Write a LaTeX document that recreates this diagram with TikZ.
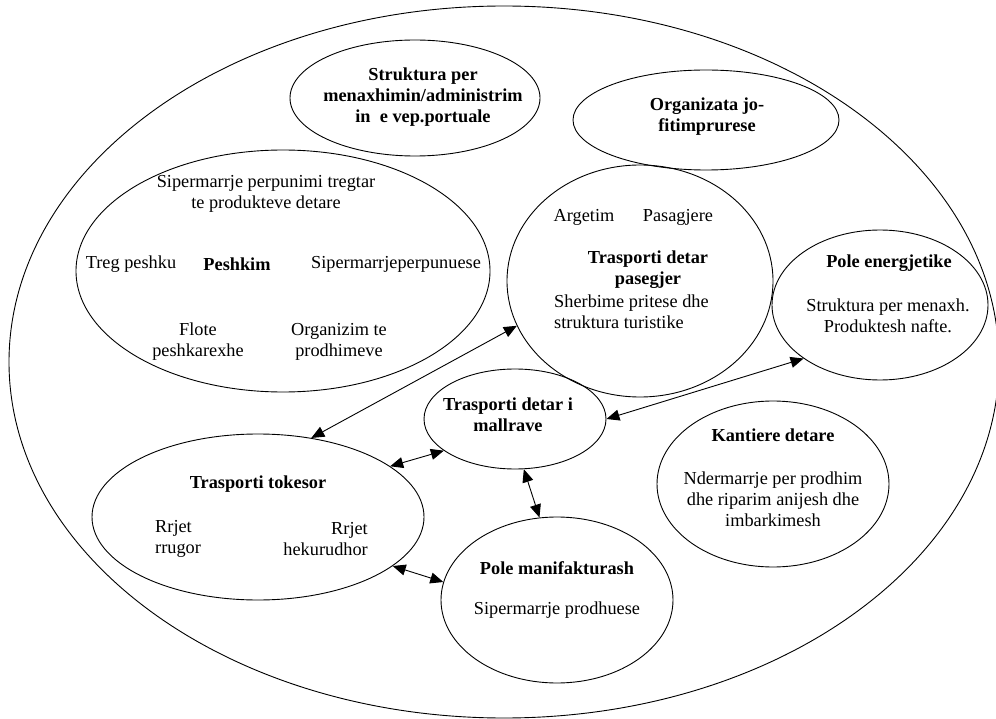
\documentclass[tikz,border=0pt]{standalone}
\usepackage{fontspec}
\setmainfont{Liberation Serif}
\usetikzlibrary{shapes.geometric,arrows.meta}
\tikzset{
  oval/.style={draw,ellipse,line width=0.9pt,inner sep=0pt},
  lbl/.style={inner sep=0pt,font=\fontsize{18.3}{21}\selectfont,align=center},
  blbl/.style={lbl,font=\fontsize{18.3}{21}\selectfont\bfseries},
  dbl/.style={line width=0.9pt,{Triangle[length=13pt,width=11pt]}-{Triangle[length=13pt,width=11pt]}}
}
\begin{document}
\begin{tikzpicture}[x=1pt,y=-1pt]
\useasboundingbox (0,0) rectangle (996,719);
% outer
\node[oval,minimum width=990pt,minimum height=712pt] (outer) at (504,362) {};
% ellipses
\node[oval,minimum width=250pt,minimum height=116pt] (admin) at (415,98) {};
\node[oval,minimum width=266pt,minimum height=100pt] (org) at (706,120) {};
\node[oval,minimum width=414pt,minimum height=242pt] (peshkim) at (283,271) {};
\node[oval,minimum width=266pt,minimum height=232pt] (pasegjer) at (640,281) {};
\node[oval,minimum width=216pt,minimum height=150pt] (energ) at (880,305) {};
\node[oval,minimum width=182pt,minimum height=100pt] (mallrave) at (515,419) {};
\node[oval,minimum width=332pt,minimum height=166pt] (tokesor) at (258,517) {};
\node[oval,minimum width=232pt,minimum height=166pt] (manif) at (557,600) {};
\node[oval,minimum width=232pt,minimum height=166pt] (kantiere) at (773,484) {};
% texts
\node[blbl] (tadmin) at (423,97) {Struktura per\\menaxhimin/administrim\\in\ \ e vep.portuale};
\node[blbl] (torg) at (707,117) {Organizata jo-\\fitimprurese};
\node[lbl] (tsip) at (266,194) {Sipermarrje perpunimi tregtar\\te produkteve detare};
\node[lbl] (ttreg) at (131,264) {Treg peshku};
\node[blbl] (tpesh) at (237,264) {Peshkim};
\node[lbl] (tsipp) at (396,264) {Sipermarrjeperpunuese};
\node[lbl] (tflote) at (198,342) {Flote\\peshkarexhe};
\node[lbl] (torgz) at (339,342) {Organizim te\\prodhimeve};
\node[lbl] (targ) at (584,217) {Argetim};
\node[lbl] (tpas) at (678,217) {Pasagjere};
\node[blbl] (tpasg) at (648,270) {Trasporti detar\\pasegjer};
\node[lbl,align=left,anchor=west] (tsherb) at (554,312) {Sherbime pritese dhe\\struktura turistike};
\node[blbl] (tenerg) at (889,263) {Pole energjetike};
\node[lbl] (tstr) at (888,316) {Struktura per menaxh.\\Produktesh nafte.};
\node[blbl] (tmall) at (508,415) {Trasporti detar i\\mallrave};
\node[blbl] (ttok) at (258,484) {Trasporti tokesor};
\node[lbl,align=left,anchor=west] (trrug) at (155,539) {Rrjet\\rrugor};
\node[lbl,align=right,anchor=east] (thek) at (368,539) {Rrjet\\hekurudhor};
\node[blbl] (tmanif) at (557,568) {Pole manifakturash};
\node[lbl] (tprod) at (557,610) {Sipermarrje prodhuese};
\node[blbl] (tkant) at (773,435) {Kantiere detare};
\node[lbl] (tnder) at (773,499) {Ndermarrje per prodhim\\dhe riparim anijesh dhe\\imbarkimesh};
% connectors
\draw[dbl] (tokesor.56.6) -- (pasegjer.200);
\draw[dbl] (mallrave.0) -- (energ.215);
\draw[dbl] (tokesor.21.5) -- (mallrave.204);
\draw[dbl] (tokesor.-20.7) -- (manif.171.7);
\draw[dbl] (mallrave.-80) -- (manif.102);
\end{tikzpicture}
\end{document}
